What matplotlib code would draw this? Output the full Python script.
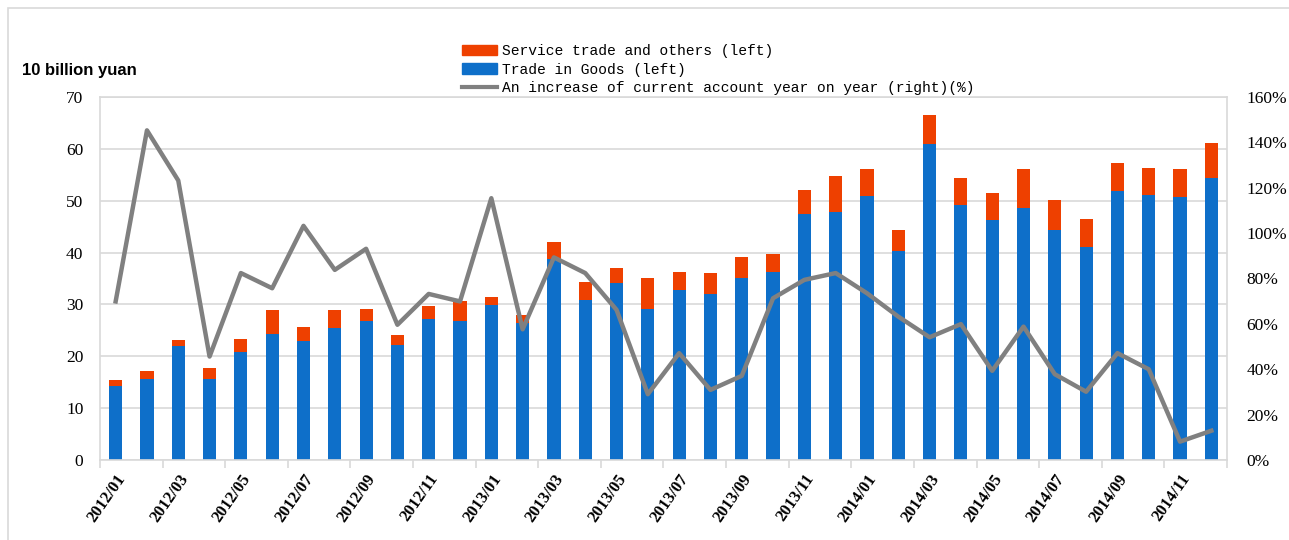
import numpy as np
import matplotlib.pyplot as plt
import matplotlib.patches as mpatches
from matplotlib.lines import Line2D

# months 2012/01 .. 2014/12
months = ['%d/%02d' % (y, m) for y in (2012, 2013, 2014) for m in range(1, 13)]

# trade in goods (left axis, 10 billion yuan)
goods = [14.2, 15.7, 21.9, 15.7, 20.8, 24.3, 23.0, 25.4, 26.8, 22.1, 27.2, 26.8,
         29.9, 26.5, 38.7, 30.8, 34.1, 29.2, 32.7, 32.0, 35.1, 36.3, 47.4, 47.8,
         51.0, 40.3, 61.0, 49.2, 46.3, 48.6, 44.3, 41.0, 51.9, 51.1, 50.8, 54.3]
# total including service trade and others
total = [15.5, 17.2, 23.2, 17.7, 23.4, 28.9, 25.6, 29.0, 29.1, 24.1, 29.7, 30.6,
         31.5, 27.9, 42.1, 34.4, 37.0, 35.1, 36.3, 36.1, 39.2, 39.7, 52.1, 54.8,
         56.1, 44.4, 66.6, 54.3, 51.4, 56.1, 50.2, 46.5, 57.3, 56.3, 56.1, 61.2]
service = [t - g for t, g in zip(total, goods)]
# current account growth yoy (right axis, %)
growth = [69.9, 145.3, 123.2, 45.6, 82.4, 75.7, 103.2, 83.8, 93.1, 59.6, 73.2, 69.9,
          115.4, 57.6, 89.3, 82.4, 66.2, 29.0, 47.1, 30.9, 37.1, 71.3, 79.4, 82.4,
          73.5, 63.2, 54.1, 59.9, 39.3, 58.8, 37.8, 30.1, 47.1, 40.0, 8.1, 12.9]

blue = '#0E6FC9'
red = '#EE4000'
grey = '#808080'
grid_c = '#D9D9D9'

fig = plt.figure(figsize=(12.89, 5.4), dpi=100)
ax = fig.add_axes([100/1289, 1 - 460/540, 1127/1289, 363/540])
x = np.arange(len(months))

ax.bar(x, goods, width=0.42, color=blue, zorder=2)
ax.bar(x, service, width=0.42, bottom=goods, color=red, zorder=2)
ax.set_ylim(0, 70)
ax.set_xlim(-0.5, len(months) - 0.5)
ax.set_yticks(range(0, 71, 10))
ax.yaxis.grid(True, color=grid_c, lw=1.2, zorder=0)
ax.set_axisbelow(True)
for s in ax.spines.values():
    s.set_color(grid_c)
    s.set_linewidth(1.2)
ax.tick_params(axis='y', length=0, pad=12, labelsize=12.5)
for lbl in ax.get_yticklabels():
    lbl.set_family('Liberation Serif')

# x ticks: marks at every second category boundary, labels every second month
ax.set_xticks(np.arange(-0.5, len(months), 2))
ax.set_xticklabels([])
ax.tick_params(axis='x', which='major', length=6, color=grid_c, width=1.2)
ax.set_xticks(x[::2], minor=True)
ax.set_xticklabels(months[::2], minor=True, rotation=55, ha='right',
                   rotation_mode='anchor', fontsize=12, fontweight='bold',
                   family='Liberation Serif')
ax.tick_params(axis='x', which='minor', length=0, pad=8)

ax2 = ax.twinx()
ax2.plot(x, growth, color=grey, lw=3.2, zorder=3)
ax2.set_ylim(0, 160)
ax2.set_yticks(range(0, 161, 20))
ax2.set_yticklabels(['%d%%' % v for v in range(0, 161, 20)], family='Liberation Serif')
ax2.tick_params(axis='y', length=0, pad=14, labelsize=12.5)
for s in ax2.spines.values():
    s.set_visible(False)

fig.text(22/1289, 1 - 70/540, '10 billion yuan', fontsize=12, fontweight='bold',
         va='center', ha='left', family='Liberation Sans')

handles = [mpatches.Patch(color=red), mpatches.Patch(color=blue),
           Line2D([0], [0], color=grey, lw=3)]
labels = ['Service trade and others (left)', 'Trade in Goods (left)',
          'An increase of current account year on year (right)(%)']
fig.legend(handles, labels, loc='upper left', bbox_to_anchor=(455/1289, 1 - 37/540),
           frameon=False, prop={'family': 'Liberation Mono', 'size': 10.5},
           handlelength=2.4, handletextpad=0.3, labelspacing=0.3, borderpad=0)

# outer frame of the chart area
fig.patches.append(mpatches.Rectangle((8/1289, -0.1), 1.2, 1 - 8/540 + 0.1,
                   transform=fig.transFigure, fill=False, ec=grid_c, lw=1.2))

plt.savefig('out.png', dpi=100)
plt.close()
